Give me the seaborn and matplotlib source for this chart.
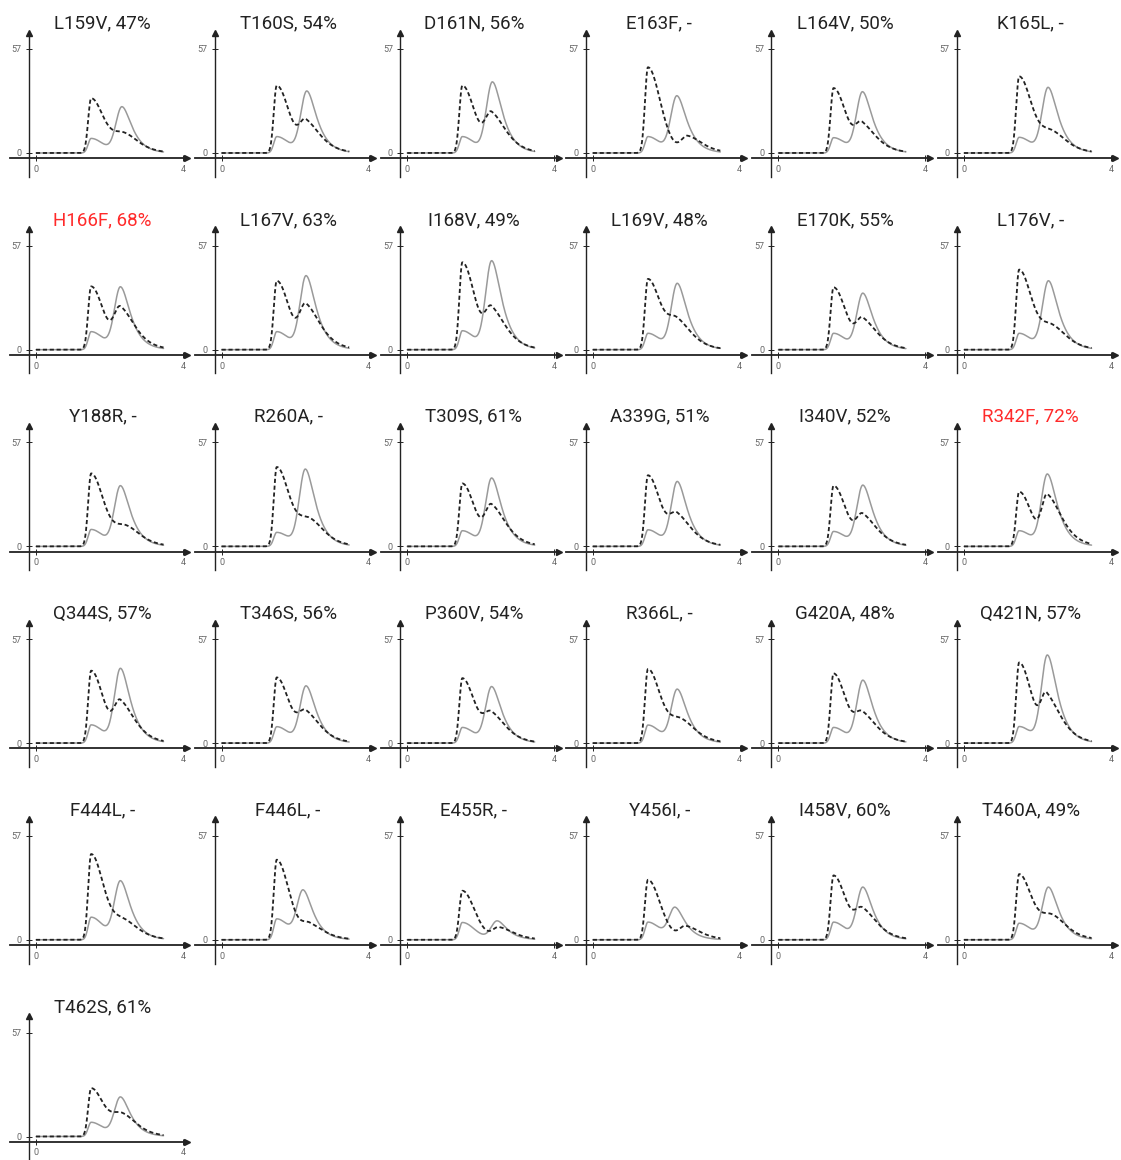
import numpy as np
import pandas as pd
import matplotlib
matplotlib.use("Agg")
import matplotlib.pyplot as plt
import seaborn as sns

# ---- data -------------------------------------------------------------
mutations = [
    "L159V", "T160S", "D161N", "E163F", "L164V", "K165L",
    "H166F", "L167V", "I168V", "L169V", "E170K", "L176V",
    "Y188R", "R260A", "T309S", "A339G", "I340V", "R342F",
    "Q344S", "T346S", "P360V", "R366L", "G420A", "Q421N",
    "F444L", "F446L", "E455R", "Y456I", "I458V", "T460A",
    "T462S",
]
activity = [
    "47%", "54%", "56%", "-", "50%", "-",
    "68%", "63%", "49%", "48%", "55%", "-",
    "-", "-", "61%", "51%", "52%", "72%",
    "57%", "56%", "54%", "-", "48%", "57%",
    "-", "-", "-", "-", "60%", "49%",
    "61%",
]

# dashed trace: early peak height, late bump height / position / spread
dashed_main = [30, 37, 37, 47, 35.6, 42,
               34.7, 37.8, 47.9, 38.8, 34.2, 43.9,
               40, 43.5, 34.5, 39, 33.3, 30,
               39.7, 36, 35.6, 40.6, 38.2, 44.2,
               47, 43.9, 26.9, 32.9, 35.3, 36,
               26.5]
dashed_late = [11.3, 18.6, 22.7, 9.5, 17.2, 12.6,
               23.8, 25.4, 24, 17.7, 17.7, 14,
               11.7, 15.7, 23.2, 18.6, 18.1, 28.7,
               23.8, 18.1, 17.4, 13.7, 17.4, 27.8,
               11.7, 9.5, 7, 7.7, 17.7, 14,
               13]
dashed_late_pos = [2.4, 2.3, 2.3, 2.58, 2.28, 2.4,
                   2.3, 2.3, 2.3, 2.3, 2.3, 2.4,
                   2.45, 2.4, 2.3, 2.3, 2.3, 2.27,
                   2.3, 2.3, 2.3, 2.4, 2.3, 2.25,
                   2.4, 2.4, 2.5, 2.53, 2.3, 2.4,
                   2.35]
dashed_late_spread = [0.3, 0.17, 0.17, 0.17, 0.17, 0.3,
                      0.17, 0.17, 0.17, 0.25, 0.17, 0.3,
                      0.3, 0.3, 0.17, 0.2, 0.17, 0.15,
                      0.17, 0.2, 0.2, 0.3, 0.2, 0.15,
                      0.3, 0.2, 0.17, 0.17, 0.2, 0.3,
                      0.28]

# solid trace: early shoulder height, main peak height / position
gray_early = [8, 9, 9, 9, 8.4, 8.6,
              9.9, 9.9, 10.4, 9, 9, 9,
              9.3, 7.7, 8.6, 9.1, 8.2, 8.6,
              10, 9, 8.6, 9.9, 8.6, 9.1,
              12.4, 11.5, 9.5, 9.7, 9.7, 9.1,
              7.8]
gray_main = [25.4, 34, 39, 31.4, 33.6, 36,
             34.5, 40.6, 48.8, 36.4, 31, 37.8,
             33.3, 42.4, 37.5, 35.6, 33.6, 39.7,
             41, 31.4, 31, 29.6, 34.5, 48.3,
             32.4, 27.4, 10.4, 17.9, 28.9, 28.9,
             21.7]
gray_main_pos = [2.34, 2.32, 2.32, 2.29, 2.29, 2.29,
                 2.3, 2.3, 2.3, 2.3, 2.3, 2.3,
                 2.3, 2.28, 2.3, 2.3, 2.3, 2.27,
                 2.3, 2.3, 2.3, 2.3, 2.3, 2.27,
                 2.3, 2.22, 2.45, 2.24, 2.3, 2.3,
                 2.3]

EARLY_POS = 1.5
HIGHLIGHT_ABOVE = 65


# ---- peak model -------------------------------------------------------
def peak(x, c, sl, a, k):
    """Gaussian rise; tail rounded at the top and exponential further out."""
    d = np.asarray(x, dtype=float) - c
    left = np.exp(-0.5 * (np.minimum(d, 0) / sl) ** 2)
    right = np.exp(-k * (np.sqrt(1 + (np.maximum(d, 0) / a) ** 2) - 1))
    return np.where(d < 0, left, right)


def trace(x, heights, components):
    """Sum of peaks scaled so the curve passes through the given heights."""
    pos = [comp[0] for comp in components]
    M = np.array([[peak(p, *comp) for comp in components] for p in pos])
    amps = np.linalg.solve(M, np.array(heights, dtype=float))
    return sum(a * peak(x, *comp) for a, comp in zip(amps, components))


# ---- figure -----------------------------------------------------------
sns.set_theme(style="white")
plt.rcParams["font.family"] = ["Roboto", "DejaVu Sans"]

W, H = 1121, 1160
fig = plt.figure(figsize=(W / 100, H / 100), dpi=100)

XMIN, XMAX = -0.72, 4.12
YMIN, YMAX = -13, 66
PX_X = 36.75
PX_Y = 104 / 57
COL_STEP, ROW_STEP = 185.6, 196.7
AXIS_X, AXIS_Y = -0.19, -2.9
INK = "#222222"

x = np.linspace(0, 3.47, 600)

for i, (name, act) in enumerate(zip(mutations, activity)):
    r, c = divmod(i, 6)
    left = 36 + COL_STEP * c + XMIN * PX_X
    top = 153 + ROW_STEP * r - YMAX * PX_Y
    w = (XMAX - XMIN) * PX_X
    h = (YMAX - YMIN) * PX_Y
    ax = fig.add_axes([left / W, 1 - (top + h) / H, w / W, h / H])

    y_gray = trace(x, [gray_early[i], gray_main[i]],
                   [(EARLY_POS, 0.08, 1.0, 9.2),
                    (gray_main_pos[i], 0.165, 0.2, 0.79)])
    y_dash = trace(x, [dashed_main[i], dashed_late[i]],
                   [(EARLY_POS, 0.08, 1.0, 9.2),
                    (dashed_late_pos[i], dashed_late_spread[i], 0.5, 1.85)])

    sns.lineplot(data=pd.DataFrame({"x": x, "y": y_gray}), x="x", y="y",
                 ax=ax, color="#9a9a9a", linewidth=1.1,
                 estimator=None, errorbar=None)
    sns.lineplot(data=pd.DataFrame({"x": x, "y": y_dash}), x="x", y="y",
                 ax=ax, color=INK, linewidth=1.3, linestyle=(0, (2.3, 1.5)),
                 estimator=None, errorbar=None)

    ax.set(xlabel="", ylabel="", xlim=(XMIN, XMAX), ylim=(YMIN, YMAX))
    for s in ("top", "right"):
        ax.spines[s].set_visible(False)
    ax.spines["left"].set_position(("data", AXIS_X))
    ax.spines["bottom"].set_position(("data", AXIS_Y))
    ax.spines["left"].set_color(INK)
    ax.spines["bottom"].set_color(INK)
    ax.spines["left"].set_linewidth(1.0)
    ax.spines["bottom"].set_linewidth(1.3)

    ax.plot(1, AXIS_Y, ">", transform=ax.get_yaxis_transform(),
            clip_on=False, color=INK, ms=4.5)
    ax.plot(AXIS_X, 1, "^", transform=ax.get_xaxis_transform(),
            clip_on=False, color=INK, ms=4.5)

    ax.set_xticks([0, 4])
    ax.set_yticks([0, 57])
    ax.tick_params(axis="both", bottom=True, left=True, direction="inout",
                   length=4.5, width=0.7, color=INK, labelsize=6.5,
                   labelcolor="#666666")
    ax.tick_params(axis="x", pad=2.5)
    ax.tick_params(axis="y", pad=3)
    ax.set_facecolor("none")

    pct = float(act.rstrip("%")) if act != "-" else 0
    ax.set_title(f"{name}, {act}", fontsize=13.5, pad=3, x=0.523,
                 color="#ff2a2a" if pct > HIGHLIGHT_ABOVE else INK)

fig.savefig("out.png", dpi=100, facecolor="white")
